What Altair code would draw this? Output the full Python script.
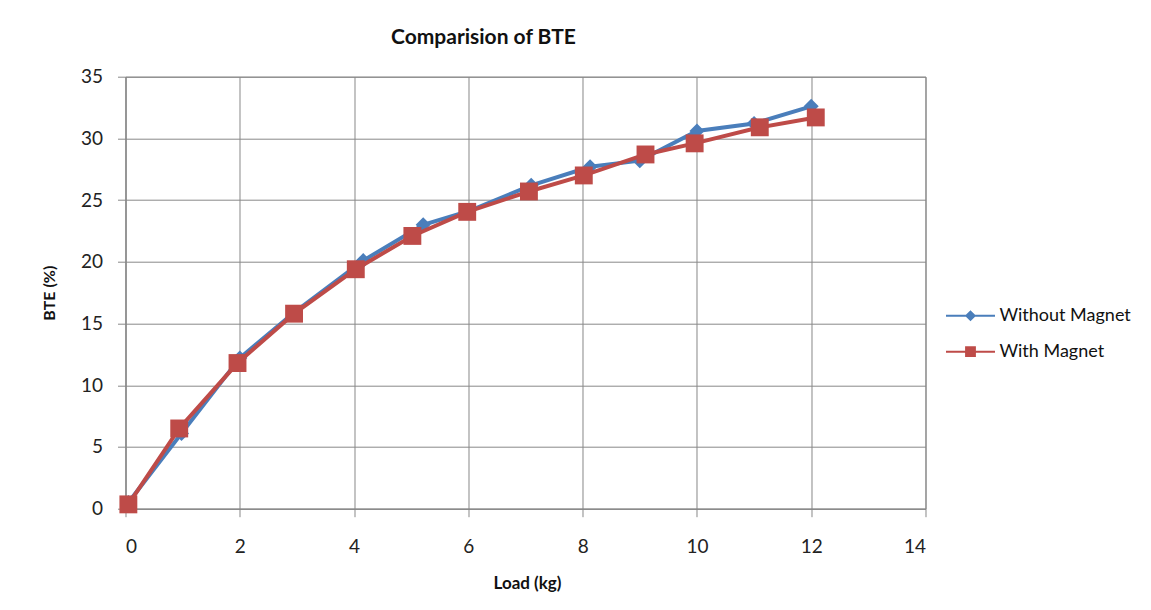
import altair as alt
import pandas as pd

series_names = ["Without Magnet", "With Magnet"]
series_colors = ["#4A7EBB", "#BE4B48"]

load_without = [0.05, 0.98, 2.0, 2.95, 4.16, 5.21, 6.0, 7.1, 8.13, 9.0, 10.0, 11.0, 12.0]
bte_without = [0.5, 6.1, 12.2, 15.9, 20.1, 23.0, 24.1, 26.2, 27.7, 28.2, 30.6, 31.2, 32.6]

load_with = [0.05, 0.94, 1.96, 2.95, 4.03, 5.02, 5.98, 7.06, 8.02, 9.1, 9.96, 11.1, 12.08]
bte_with = [0.35, 6.5, 11.8, 15.8, 19.4, 22.1, 24.05, 25.7, 27.0, 28.7, 29.6, 30.9, 31.7]

x_ticks = [0, 2, 4, 6, 8, 10, 12, 14]
y_ticks = [0, 5, 10, 15, 20, 25, 30, 35]

df_without = pd.DataFrame({"load": load_without, "bte": bte_without,
                           "series": series_names[0], "idx": list(range(len(load_without)))})
df_with = pd.DataFrame({"load": load_with, "bte": bte_with,
                        "series": series_names[1], "idx": list(range(len(load_with)))})
df_all = pd.concat([df_without, df_with], ignore_index=True)

GRAY = "#888888"
FONT = "Lato"

x_enc = alt.X("load:Q",
              scale=alt.Scale(domain=[0, 14], nice=False, zero=False),
              axis=alt.Axis(values=x_ticks, title="Load (kg)", grid=True,
                            tickSize=8, labelPadding=36, labelBaseline="alphabetic",
                            labelFont=FONT, labelFontSize=19, labelColor="#222222",
                            titleFont=FONT, titleFontSize=17, titleFontWeight="bold",
                            titleColor="#111111", titleX=401.5, titleY=80,
                            titleBaseline="alphabetic", titleAlign="center"))
y_enc = alt.Y("bte:Q",
              scale=alt.Scale(domain=[0, 35], nice=False),
              axis=alt.Axis(values=y_ticks, title="BTE (%)", grid=True,
                            tickSize=8, labelPadding=15,
                            labelFont=FONT, labelFontSize=19, labelColor="#222222",
                            titleFont=FONT, titleFontSize=16, titleFontWeight="bold",
                            titleColor="#111111", titleX=-71.5, titleY=216,
                            titleBaseline="alphabetic", titleAlign="center", titleAngle=270))

layers = []
for df_s, col, shp, sz in [(df_without, series_colors[0], "diamond", 225),
                           (df_with, series_colors[1], "square", 320)]:
    base = alt.Chart(df_s)
    layers.append(base.mark_line(strokeWidth=4, color=col).encode(
        x=x_enc, y=y_enc, order="idx:Q"))
    layers.append(base.mark_point(filled=True, opacity=1, shape=shp, size=sz, color=col).encode(
        x=x_enc, y=y_enc))

diamond_path = ("M-2.5,0H2.5 "
                "M-0.42,0L0,-0.42L0.42,0L0,0.42Z "
                "M-0.24,0L0,-0.24L0.24,0L0,0.24Z "
                "M-0.06,0L0,-0.06L0.06,0L0,0.06Z")
square_path = ("M-2.5,0H2.5 "
               "M-0.45,-0.45H0.45V0.45H-0.45Z "
               "M-0.25,-0.25H0.25V0.25H-0.25Z "
               "M-0.05,-0.05H0.05V0.05H-0.05Z")

legend_props = dict(title=None, orient="none", legendX=834, legendY=228,
                    padding=0, labelFont=FONT, labelFontSize=18,
                    labelColor="#111111", symbolSize=384,
                    symbolStrokeWidth=2, rowPadding=16, labelOffset=18)

legend_layer = alt.Chart(df_all).transform_filter("false").mark_point(
    filled=False, opacity=1, strokeWidth=2
).encode(
    x=x_enc, y=y_enc,
    color=alt.Color("series:N",
                    scale=alt.Scale(domain=series_names, range=series_colors),
                    legend=alt.Legend(**legend_props)),
    shape=alt.Shape("series:N",
                    scale=alt.Scale(domain=series_names, range=[diamond_path, square_path]),
                    legend=alt.Legend(**legend_props)),
)

chart = alt.layer(*layers, legend_layer).properties(
    width=800, height=432,
    title=alt.TitleParams("Comparision of BTE", font=FONT, fontSize=21, fontWeight="bold",
                          color="#111111", anchor="middle", dx=-42, offset=3,
                          baseline="alphabetic"),
    padding={"left": 117.5, "top": 68.7, "right": 217, "bottom": 93},
    autosize=alt.AutoSizeParams(type="none"),
    background="white",
).configure_axis(
    domainColor=GRAY, gridColor=GRAY, tickColor=GRAY, gridOpacity=1,
    domainWidth=1, gridWidth=1, tickWidth=1,
).configure_view(
    stroke=GRAY, strokeWidth=1,
)

chart.save("out.html", embed_options={"renderer": "svg", "actions": False})
